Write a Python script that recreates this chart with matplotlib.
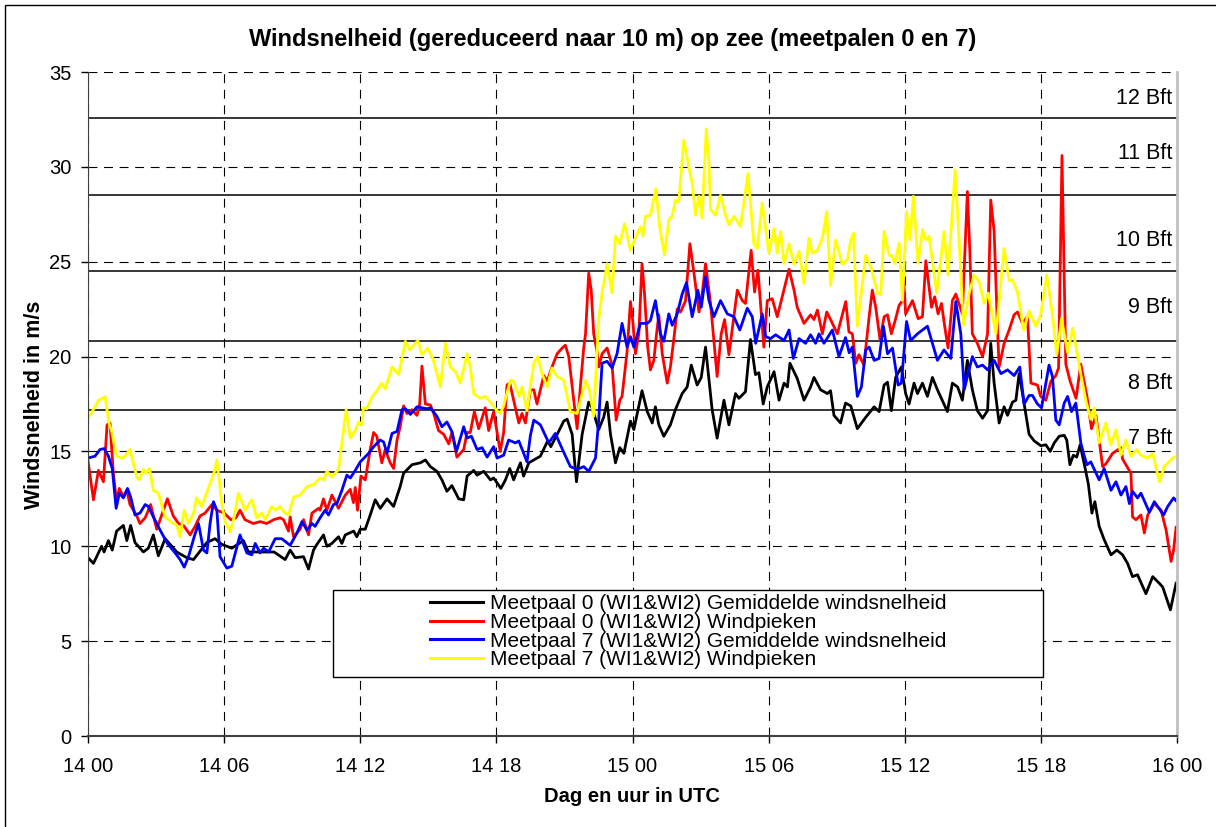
import numpy as np
import matplotlib.pyplot as plt
from matplotlib.patches import Rectangle

plt.rcParams['font.family'] = ['Liberation Sans', 'DejaVu Sans']

# (hours after 14 00 UTC, wind speed m/s)
black = [(0.0, 9.4), (0.24, 9.1), (0.6, 10.0), (0.71, 9.7), (0.9, 10.3), (1.07, 9.8), (1.26, 10.8),
         (1.56, 11.1), (1.71, 10.3), (1.88, 11.1), (2.07, 10.2), (2.44, 9.7), (2.66, 9.9), (2.88, 10.6),
         (3.1, 9.5), (3.4, 10.4), (3.91, 9.7), (4.35, 9.4), (4.65, 9.3), (5.24, 10.2), (5.6, 10.4),
         (5.9, 10.1), (6.34, 9.9), (6.85, 10.3), (7.07, 9.7), (7.66, 9.7), (8.2, 9.7), (8.69, 9.3),
         (8.91, 9.8), (9.13, 9.4), (9.5, 9.45), (9.72, 8.8), (9.94, 9.8), (10.09, 10.1), (10.38, 10.6),
         (10.53, 10.0), (10.75, 10.15), (11.04, 10.5), (11.19, 10.15), (11.34, 10.6), (11.71, 10.8),
         (11.85, 10.5), (12.0, 10.9), (12.22, 10.9), (12.44, 11.65), (12.66, 12.45), (12.88, 12.0),
         (13.18, 12.5), (13.47, 12.1), (13.76, 13.15), (13.91, 13.85), (14.28, 14.3), (14.65, 14.4),
         (14.87, 14.55), (15.09, 14.2), (15.38, 13.95), (15.6, 13.5), (15.82, 12.9), (16.04, 13.2),
         (16.34, 12.5), (16.56, 12.45), (16.71, 13.7), (17.0, 14.0), (17.15, 13.75), (17.44, 13.95),
         (17.74, 13.5), (17.88, 13.6), (18.2, 13.05), (18.4, 13.5), (18.59, 14.1), (18.76, 13.5),
         (19.06, 14.4), (19.2, 13.7), (19.43, 14.4), (19.94, 14.75), (20.26, 15.55), (20.4, 15.25),
         (20.68, 15.9), (20.97, 16.6), (21.12, 16.7), (21.34, 15.9), (21.53, 13.4), (21.78, 15.9),
         (22.07, 17.6), (22.22, 17.3), (22.51, 16.15), (22.73, 16.8), (22.88, 17.6), (23.03, 15.9),
         (23.25, 14.4), (23.44, 15.2), (23.62, 14.9), (23.91, 16.6), (24.06, 16.15), (24.42, 18.2),
         (24.65, 17.1), (24.87, 16.5), (25.01, 17.35), (25.16, 16.4), (25.38, 15.8), (25.67, 16.4),
         (25.89, 17.2), (26.19, 18.05), (26.41, 18.4), (26.59, 19.55), (26.85, 18.5), (27.03, 18.9),
         (27.22, 20.5), (27.51, 17.2), (27.73, 15.7), (28.03, 17.7), (28.25, 16.4), (28.54, 18.05),
         (28.69, 17.8), (28.98, 18.15), (29.2, 20.9), (29.42, 19.05), (29.57, 19.15), (29.76, 17.5),
         (29.94, 18.4), (30.24, 19.2), (30.46, 17.7), (30.68, 18.6), (30.83, 18.4), (30.94, 19.65),
         (31.26, 18.85), (31.56, 17.7), (31.85, 18.4), (32.0, 18.9), (32.29, 18.25), (32.59, 18.05),
         (32.73, 18.2), (32.88, 16.9), (33.17, 16.5), (33.39, 17.55), (33.62, 17.4), (33.91, 16.2),
         (34.28, 16.8), (34.65, 17.35), (34.87, 17.1), (35.09, 18.5), (35.24, 18.65), (35.41, 17.15),
         (35.6, 18.9), (35.85, 19.45), (36.04, 18.05), (36.19, 17.5), (36.41, 18.6), (36.56, 18.05),
         (36.78, 18.6), (37.0, 17.9), (37.22, 18.9), (37.44, 18.25), (37.88, 17.1), (38.1, 18.6),
         (38.33, 18.4), (38.54, 17.7), (38.76, 19.8), (38.98, 18.25), (39.2, 17.15), (39.43, 16.75),
         (39.65, 17.15), (39.79, 20.7), (39.94, 18.6), (40.16, 16.5), (40.38, 17.35), (40.53, 16.9),
         (40.75, 17.6), (40.9, 17.7), (41.04, 19.1), (41.19, 18.05), (41.34, 16.95), (41.48, 15.9),
         (41.71, 15.55), (42.0, 15.3), (42.22, 15.35), (42.41, 15.0), (42.59, 15.45), (42.81, 15.8),
         (43.03, 15.85), (43.14, 15.6), (43.28, 14.3), (43.43, 14.8), (43.58, 14.7), (43.73, 15.35),
         (43.91, 14.35), (44.09, 13.3), (44.25, 11.75), (44.38, 12.35), (44.57, 11.05), (44.79, 10.35),
         (45.09, 9.55), (45.35, 9.8), (45.6, 9.55), (45.82, 9.1), (46.04, 8.4), (46.26, 8.5),
         (46.63, 7.5), (46.93, 8.4), (47.22, 8.05), (47.37, 7.85), (47.71, 6.65), (47.96, 8.05)]

red = [(0.0, 14.5), (0.24, 12.45), (0.46, 14.0), (0.68, 13.4), (0.84, 16.4), (0.97, 16.5), (1.12, 13.8),
       (1.26, 12.35), (1.38, 13.05), (1.56, 12.6), (1.71, 12.95), (1.85, 12.2), (2.15, 11.6), (2.29, 11.2),
       (2.52, 11.5), (2.76, 12.2), (3.03, 10.9), (3.5, 12.5), (3.76, 11.6), (3.99, 11.2), (4.21, 11.1),
       (4.5, 10.6), (4.72, 11.05), (4.94, 11.6), (5.16, 11.75), (5.46, 12.2), (5.68, 11.9), (6.0, 11.75),
       (6.3, 11.4), (6.52, 11.5), (6.7, 11.9), (6.92, 11.4), (7.29, 11.2), (7.59, 11.3), (7.88, 11.2),
       (8.18, 11.4), (8.47, 11.5), (8.62, 11.4), (8.84, 10.8), (8.91, 11.55), (9.06, 10.5), (9.35, 10.9),
       (9.5, 11.4), (9.72, 10.6), (9.87, 11.75), (10.16, 12.0), (10.23, 11.9), (10.38, 12.5),
       (10.53, 11.9), (10.75, 12.7), (11.04, 12.0), (11.34, 12.7), (11.56, 13.0), (11.7, 12.3),
       (11.78, 13.1), (11.88, 11.9), (12.03, 13.7), (12.22, 13.5), (12.44, 15.1), (12.59, 16.0),
       (12.73, 15.8), (12.95, 14.4), (13.1, 15.1), (13.32, 14.4), (13.47, 14.1), (13.62, 15.6),
       (13.76, 16.3), (13.91, 17.4), (14.06, 17.0), (14.28, 17.2), (14.5, 16.9), (14.62, 17.5),
       (14.72, 19.5), (14.87, 17.5), (15.09, 17.45), (15.24, 17.0), (15.45, 16.1), (15.68, 15.9),
       (15.9, 15.4), (16.04, 16.0), (16.26, 14.7), (16.41, 14.9), (16.56, 15.1), (16.71, 16.0),
       (16.85, 16.0), (17.03, 17.1), (17.22, 16.2), (17.51, 17.3), (17.66, 16.1), (17.88, 17.1),
       (18.17, 15.0), (18.32, 16.0), (18.47, 18.5), (18.59, 18.6), (18.99, 16.5), (19.13, 17.0),
       (19.28, 16.5), (19.5, 18.25), (19.65, 18.25), (19.79, 17.5), (20.09, 19.0), (20.24, 18.7),
       (20.45, 19.45), (20.68, 20.15), (20.9, 20.45), (21.04, 20.6), (21.19, 20.0), (21.41, 17.7),
       (21.56, 16.2), (21.7, 18.4), (21.85, 20.45), (21.93, 21.2), (22.07, 24.4), (22.18, 23.5),
       (22.29, 21.2), (22.44, 20.25), (22.51, 19.45), (22.66, 20.15), (22.88, 20.45), (23.1, 19.55),
       (23.28, 16.65), (23.44, 17.7), (23.54, 17.9), (23.76, 20.25), (23.91, 22.9), (24.01, 21.9),
       (24.13, 20.15), (24.28, 21.2), (24.42, 24.9), (24.53, 23.3), (24.67, 20.5), (24.79, 19.3),
       (24.94, 19.8), (25.06, 21.2), (25.16, 22.2), (25.31, 20.15), (25.53, 18.6), (25.67, 19.45),
       (25.82, 20.9), (25.97, 22.5), (26.12, 22.35), (26.34, 22.95), (26.53, 25.95), (26.71, 24.4),
       (26.93, 22.35), (27.07, 23.3), (27.22, 24.9), (27.44, 22.8), (27.73, 18.95), (27.91, 21.2),
       (28.06, 21.95), (28.25, 20.1), (28.62, 23.5), (28.84, 22.95), (28.98, 22.8), (29.23, 25.6),
       (29.38, 23.4), (29.53, 24.55), (29.79, 20.5), (29.94, 22.95), (30.16, 23.05), (30.38, 22.1),
       (30.9, 24.6), (31.12, 23.5), (31.26, 22.6), (31.56, 21.75), (31.85, 22.2), (32.0, 21.95),
       (32.15, 22.45), (32.37, 21.2), (32.56, 22.35), (32.73, 21.95), (33.03, 21.2), (33.4, 22.9),
       (33.54, 21.3), (33.69, 21.2), (33.84, 19.65), (33.98, 20.1), (34.2, 19.55), (34.43, 22.1),
       (34.57, 23.5), (34.72, 22.6), (34.91, 20.9), (35.09, 22.1), (35.24, 22.2), (35.41, 21.2),
       (35.6, 22.0), (35.75, 22.7), (35.9, 22.95), (35.95, 24.1), (36.04, 22.25), (36.34, 22.95),
       (36.59, 22.0), (36.78, 22.1), (36.93, 25.05), (37.18, 22.6), (37.32, 23.15), (37.47, 22.25),
       (37.62, 22.8), (37.76, 21.6), (37.91, 20.45), (38.1, 22.95), (38.25, 23.3), (38.54, 22.25),
       (38.76, 28.7), (38.87, 25.5), (38.98, 21.2), (39.2, 20.7), (39.43, 20.0), (39.65, 21.2),
       (39.79, 28.25), (39.94, 26.6), (40.09, 21.4), (40.16, 19.45), (40.38, 20.7), (40.6, 21.4),
       (40.82, 22.2), (40.97, 22.35), (41.19, 21.75), (41.41, 22.1), (41.56, 18.6), (41.85, 18.5),
       (41.99, 17.9), (42.22, 17.7), (42.44, 18.7), (42.66, 19.0), (42.78, 19.4), (42.93, 30.6),
       (43.1, 19.6), (43.29, 18.7), (43.55, 17.8), (43.76, 19.6), (44.03, 17.9), (44.23, 16.2),
       (44.43, 16.9), (44.72, 14.2), (44.87, 14.35), (45.16, 14.9), (45.53, 15.2), (45.6, 14.6),
       (45.97, 13.85), (46.04, 11.55), (46.19, 11.4), (46.41, 11.65), (46.56, 10.7), (46.71, 11.65),
       (47.0, 12.25), (47.3, 11.9), (47.52, 10.85), (47.74, 9.2), (47.85, 9.8), (47.96, 11.0)]

blue = [(0.0, 14.65), (0.31, 14.75), (0.53, 15.1), (0.71, 15.15), (0.9, 14.75), (1.07, 14.1), (1.24, 12.0),
        (1.38, 12.8), (1.56, 12.55), (1.74, 13.05), (1.88, 12.6), (2.07, 11.65), (2.29, 11.75),
        (2.52, 12.2), (2.66, 12.1), (2.88, 11.55), (3.18, 10.85), (3.5, 10.15), (3.84, 9.65), (4.06, 9.3),
        (4.24, 8.9), (4.43, 9.45), (4.68, 10.5), (4.87, 11.2), (5.09, 9.8), (5.24, 9.65), (5.38, 11.2),
        (5.53, 12.35), (5.68, 11.9), (5.82, 9.45), (6.12, 8.85), (6.34, 8.95), (6.7, 10.6), (7.0, 9.65),
        (7.22, 9.55), (7.37, 10.15), (7.59, 9.65), (7.74, 9.9), (7.96, 9.7), (8.25, 10.4), (8.54, 10.4),
        (8.91, 10.05), (9.21, 10.7), (9.43, 11.3), (9.65, 10.85), (9.87, 11.2), (10.01, 11.05),
        (10.23, 11.5), (10.45, 11.9), (10.6, 11.65), (10.82, 12.2), (10.97, 12.25), (11.19, 12.95),
        (11.41, 13.75), (11.56, 13.6), (11.78, 14.0), (12.0, 14.45), (12.37, 14.9), (12.59, 15.25),
        (12.88, 15.6), (13.03, 15.5), (13.18, 14.9), (13.4, 15.95), (13.62, 16.05), (13.84, 17.2),
        (13.99, 17.25), (14.21, 16.95), (14.5, 17.35), (14.94, 17.25), (15.09, 17.3), (15.38, 16.85),
        (15.6, 16.3), (15.82, 16.55), (16.04, 16.05), (16.24, 15.0), (16.41, 15.7), (16.56, 16.3),
        (16.71, 15.7), (16.9, 15.8), (17.15, 15.1), (17.37, 15.2), (17.59, 14.7), (17.88, 15.25),
        (18.03, 14.65), (18.32, 14.8), (18.54, 15.6), (18.84, 15.45), (18.99, 15.55), (19.2, 14.9),
        (19.35, 14.45), (19.5, 15.85), (19.65, 16.65), (19.94, 16.4), (20.31, 15.45), (20.6, 15.95),
        (20.82, 15.35), (21.26, 14.2), (21.56, 14.05), (21.85, 14.2), (22.07, 13.95), (22.37, 14.65),
        (22.51, 16.65), (22.66, 19.65), (22.88, 19.75), (23.1, 19.4), (23.32, 20.15), (23.54, 21.75),
        (23.76, 20.5), (23.91, 21.05), (24.06, 20.5), (24.35, 21.75), (24.65, 21.75), (24.79, 21.9),
        (25.01, 22.95), (25.23, 21.2), (25.38, 20.8), (25.6, 22.25), (25.75, 21.65), (25.97, 22.25),
        (26.19, 23.3), (26.38, 23.9), (26.53, 22.8), (26.63, 22.1), (26.88, 23.5), (27.03, 22.6),
        (27.22, 24.2), (27.37, 22.95), (27.59, 22.1), (27.88, 22.95), (28.18, 22.25), (28.47, 22.1),
        (28.73, 21.4), (29.06, 22.55), (29.28, 22.1), (29.43, 20.7), (29.72, 22.25), (29.87, 21.05),
        (30.09, 20.95), (30.31, 21.15), (30.68, 20.85), (30.9, 21.4), (31.09, 19.9), (31.34, 20.95),
        (31.63, 20.7), (31.85, 21.15), (32.07, 20.7), (32.22, 21.2), (32.44, 20.7), (32.81, 21.4),
        (33.1, 20.0), (33.39, 21.0), (33.55, 20.2), (33.69, 20.5), (33.91, 17.9), (34.09, 18.4),
        (34.28, 20.35), (34.43, 20.5), (34.65, 19.8), (34.87, 19.9), (35.06, 21.6), (35.24, 20.15),
        (35.46, 20.45), (35.71, 18.5), (35.85, 18.6), (36.08, 21.85), (36.26, 20.85), (36.56, 21.2),
        (37.0, 21.6), (37.44, 19.8), (37.73, 20.35), (38.03, 19.9), (38.25, 22.9), (38.47, 21.2),
        (38.62, 18.25), (38.98, 20.0), (39.2, 19.45), (39.43, 19.55), (39.65, 19.3), (39.94, 19.8),
        (40.24, 19.1), (40.53, 19.3), (40.82, 19.0), (41.07, 19.45), (41.26, 17.5), (41.48, 17.95),
        (41.63, 17.95), (41.85, 17.5), (42.03, 17.3), (42.22, 18.6), (42.36, 19.55), (42.51, 18.95),
        (42.66, 16.65), (42.81, 16.4), (43.03, 17.55), (43.18, 17.9), (43.35, 17.1), (43.54, 17.55),
        (43.76, 15.45), (43.88, 14.9), (44.03, 14.3), (44.2, 14.45), (44.57, 13.5), (44.79, 14.1),
        (45.09, 12.95), (45.31, 13.4), (45.53, 12.7), (45.75, 13.15), (45.9, 12.25), (46.04, 12.9),
        (46.26, 12.55), (46.41, 12.8), (46.78, 11.8), (47.0, 12.35), (47.41, 11.65), (47.59, 12.1),
        (47.85, 12.55), (48.0, 12.35)]

yellow = [(0.0, 16.75), (0.31, 17.35), (0.46, 17.7), (0.65, 17.8), (0.75, 17.9), (0.94, 16.4), (1.04, 16.1),
          (1.26, 14.75), (1.48, 14.65), (1.63, 14.75), (1.85, 15.1), (2.15, 13.65), (2.26, 13.5),
          (2.44, 14.05), (2.56, 13.85), (2.71, 14.1), (2.88, 12.95), (3.1, 12.8), (3.4, 11.55),
          (3.76, 11.2), (3.9, 11.15), (4.06, 10.5), (4.24, 11.9), (4.43, 11.2), (4.65, 11.75),
          (4.79, 12.55), (5.01, 12.1), (5.38, 13.3), (5.6, 14.05), (5.68, 14.55), (5.9, 12.25),
          (6.04, 11.3), (6.27, 10.75), (6.44, 11.55), (6.63, 12.8), (6.92, 11.9), (7.22, 12.45),
          (7.44, 11.5), (7.66, 11.75), (7.81, 11.4), (8.1, 12.1), (8.25, 11.9), (8.47, 12.1),
          (8.69, 11.75), (8.84, 11.65), (9.06, 12.6), (9.35, 12.7), (9.65, 13.15), (9.94, 13.25),
          (10.23, 13.6), (10.38, 13.5), (10.53, 13.95), (10.75, 13.65), (11.04, 14.05), (11.38, 17.2),
          (11.56, 15.7), (11.78, 16.1), (11.93, 16.55), (12.07, 16.4), (12.14, 17.3), (12.29, 17.25),
          (12.51, 17.85), (12.73, 18.2), (12.95, 18.6), (13.1, 18.3), (13.4, 19.45), (13.69, 19.05),
          (13.99, 20.8), (14.18, 20.35), (14.54, 20.85), (14.72, 20.1), (14.97, 20.45), (15.2, 19.9),
          (15.53, 18.4), (15.75, 20.7), (15.97, 19.45), (16.2, 19.2), (16.41, 18.6), (16.71, 20.15),
          (16.85, 19.45), (17.0, 18.05), (17.29, 17.8), (17.51, 17.9), (17.81, 17.5), (18.03, 17.15),
          (18.17, 17.0), (18.32, 17.4), (18.62, 18.75), (18.76, 18.7), (18.99, 17.9), (19.13, 18.4),
          (19.35, 17.15), (19.65, 19.65), (19.82, 20.0), (20.01, 19.1), (20.24, 18.4), (20.45, 19.4),
          (20.68, 18.95), (20.97, 18.75), (21.26, 17.1), (21.56, 17.0), (21.93, 18.75), (22.1, 18.25),
          (22.29, 16.85), (22.51, 21.95), (22.66, 23.35), (22.88, 24.9), (23.1, 23.35), (23.25, 26.35),
          (23.44, 25.95), (23.65, 27.0), (23.91, 25.6), (24.09, 26.15), (24.35, 26.85), (24.46, 26.35),
          (24.57, 27.4), (24.79, 27.45), (25.03, 28.85), (25.2, 26.8), (25.41, 25.35), (25.6, 27.2),
          (25.75, 27.4), (25.89, 28.25), (26.04, 28.15), (26.26, 31.4), (26.48, 30.0), (26.63, 29.15),
          (26.78, 27.45), (26.93, 28.45), (27.07, 27.3), (27.25, 32.0), (27.37, 30.2), (27.44, 27.75),
          (27.66, 27.45), (27.88, 28.5), (28.1, 27.45), (28.25, 26.95), (28.47, 27.4), (28.76, 26.85),
          (29.09, 29.65), (29.35, 25.95), (29.5, 25.7), (29.72, 28.1), (30.01, 25.45), (30.24, 26.75),
          (30.38, 25.45), (30.53, 26.6), (30.68, 24.9), (30.9, 25.95), (31.12, 24.85), (31.34, 25.55),
          (31.56, 23.85), (31.78, 26.25), (31.93, 25.45), (32.15, 25.6), (32.37, 26.25), (32.56, 27.65),
          (32.73, 23.75), (32.95, 26.15), (33.25, 24.85), (33.47, 25.1), (33.62, 26.15), (33.74, 26.5),
          (33.91, 21.6), (34.28, 25.35), (34.5, 24.75), (34.8, 23.35), (34.94, 23.25), (35.09, 26.6),
          (35.31, 25.35), (35.45, 25.3), (35.56, 24.9), (35.75, 26.0), (35.9, 22.95), (36.08, 27.65),
          (36.23, 26.15), (36.38, 28.45), (36.59, 24.9), (36.78, 26.7), (36.93, 26.15), (37.07, 26.35),
          (37.41, 23.35), (37.73, 26.6), (37.91, 24.3), (38.22, 29.85), (38.4, 26.0), (38.59, 21.65),
          (38.84, 23.35), (39.06, 24.3), (39.28, 23.95), (39.5, 22.8), (39.68, 23.35), (40.02, 21.2),
          (40.38, 25.7), (40.6, 24.0), (40.75, 24.05), (40.97, 23.4), (41.24, 21.4), (41.48, 22.4),
          (41.78, 21.6), (41.99, 22.2), (42.26, 24.3), (42.51, 22.2), (42.7, 20.1), (42.91, 22.0),
          (43.18, 20.2), (43.4, 21.5), (43.77, 19.0), (44.0, 17.6), (44.2, 16.7), (44.35, 17.3),
          (44.57, 15.45), (44.86, 16.5), (45.08, 15.35), (45.31, 16.15), (45.53, 14.8), (45.75, 15.6),
          (45.97, 14.75), (46.23, 15.1), (46.41, 14.8), (46.71, 14.65), (46.93, 14.9), (47.07, 14.2),
          (47.22, 13.4), (47.44, 14.2), (47.81, 14.65), (48.0, 14.75)]

series = [black, red, blue, yellow]
labels = ['Meetpaal 0 (WI1&WI2) Gemiddelde windsnelheid',
          'Meetpaal 0 (WI1&WI2) Windpieken',
          'Meetpaal 7 (WI1&WI2) Gemiddelde windsnelheid',
          'Meetpaal 7 (WI1&WI2) Windpieken']
colors = ['#000000', '#ff0000', '#0000ff', '#ffff00']

# lower bounds of the beaufort classes
bft_levels = [13.9, 17.2, 20.8, 24.5, 28.5, 32.6]
bft_names = ['7 Bft', '8 Bft', '9 Bft', '10 Bft', '11 Bft', '12 Bft']

tick_hours = [0, 6, 12, 18, 24, 30, 36, 42, 48]
tick_labels = ['14 00', '14 06', '14 12', '14 18', '15 00', '15 06', '15 12', '15 18', '16 00']

W, H = 1216, 827
fig = plt.figure(figsize=(W / 100, H / 100), dpi=100)
ax = fig.add_axes([88 / W, 91 / H, 1089 / W, 664 / H])

# outer chart frame
fig.add_artist(Rectangle((5 / W, -0.5), 2, 1.5 - 5 / H, transform=fig.transFigure,
                         fill=False, ec='black', lw=1))

# beaufort lines, names sit between a line and the next one
label_y = [15.7, 18.6, 22.6, 26.1, 30.7, 33.6]
for lev, ly, name in zip(bft_levels, label_y, bft_names):
    ax.axhline(lev, color='black', lw=1.1, zorder=1)
    ax.text(47.8, ly, name, ha='right', va='center', fontsize=15.5, zorder=2)

for data, col, lab in zip(series, colors, labels):
    d = np.array(data)
    ax.plot(d[:, 0], d[:, 1], color=col, lw=2.0, label=lab, zorder=3)

ax.set_xlim(0, 48)
ax.set_ylim(0, 35)
ax.set_xticks(tick_hours)
ax.set_xticklabels(tick_labels)
ax.set_yticks(np.arange(0, 36, 5))
ax.tick_params(direction='out', length=5, width=1, labelsize=14.5)
ax.tick_params(axis='x', pad=10)
ax.tick_params(axis='y', pad=7)
ax.grid(True, color='black', lw=0.8, ls=(0, (8, 6)), zorder=0)

ax.spines['top'].set_visible(False)
ax.spines['left'].set_color('#404040')
ax.spines['bottom'].set_color('#404040')
ax.spines['bottom'].set_linewidth(1.5)
ax.spines['right'].set_color('#c0c0c0')
ax.spines['right'].set_linewidth(2)
for sp in ax.spines.values():
    sp.set_zorder(4)

# legend: box drawn separately, entries centered inside
box = Rectangle((0.225, 0.089), 0.652, 0.131, transform=ax.transAxes,
                facecolor='white', edgecolor='black', lw=1, zorder=5)
ax.add_patch(box)
leg = ax.legend(loc='center', bbox_to_anchor=(0.551, 0.157), frameon=False, fontsize=15,
                handlelength=2.55, handletextpad=0.34, labelspacing=-0.02, borderpad=0)
leg.set_zorder(6)
for line in leg.get_lines():
    line.set_linewidth(2.2)

fig.text(0.504, 0.952, 'Windsnelheid (gereduceerd naar 10 m) op zee (meetpalen 0 en 7)',
         ha='center', va='center', fontsize=17, fontweight='bold')
fig.text(35 / W, 0.511, 'Windsnelheid in m/s', rotation=90, ha='center', va='center',
         fontsize=15.5, fontweight='bold')
fig.text(632 / W, 30 / H, 'Dag en uur in UTC', ha='center', va='center',
         fontsize=14.5, fontweight='bold')

fig.savefig('out.png', dpi=100, facecolor='white')
